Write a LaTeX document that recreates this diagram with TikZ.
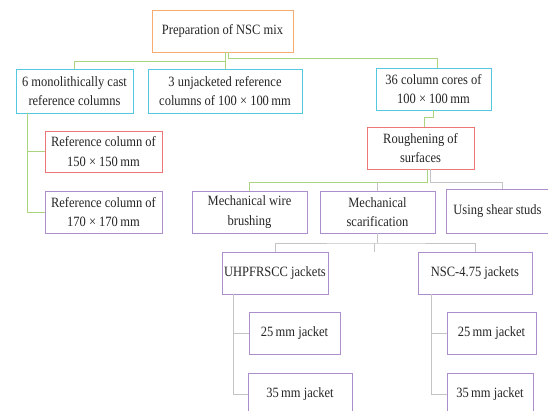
\documentclass[tikz,border=0pt]{standalone}
\usepackage{fontspec}
\setmainfont{Liberation Serif}[FakeStretch=0.88]
\definecolor{cOrange}{RGB}{246,172,112}
\definecolor{cCyan}{RGB}{84,200,222}
\definecolor{cRed}{RGB}{234,118,118}
\definecolor{cPurple}{RGB}{172,142,204}
\definecolor{cGreen}{RGB}{170,212,128}
\definecolor{cGray}{RGB}{196,196,196}
\tikzset{
  box/.style={draw, line width=0.9pt, fill=white, inner sep=0pt, align=center,
    font=\fontsize{14.2}{19.5}\selectfont, text=black!85},
  obox/.style={box, draw=cOrange},
  cbox/.style={box, draw=cCyan},
  rbox/.style={box, draw=cRed},
  pbox/.style={box, draw=cPurple},
  gline/.style={draw=cGreen, line width=0.9pt},
  yline/.style={draw=cGray, line width=0.9pt},
}
\begin{document}
\begin{tikzpicture}[x=1pt,y=-1pt]
\useasboundingbox (0,0) rectangle (548,411);
\clip (0,0) rectangle (548,411);
\fill[white] (0,0) rectangle (548,411);
% junction coordinates
\coordinate (j1) at (225,61);
\coordinate (j2) at (228,58);
\coordinate (a0) at (27,113);
\coordinate (fj) at (427,182);
\coordinate (hj) at (377,243);
\coordinate (hs) at (374,243);
\coordinate (jv) at (233,294);
\coordinate (kv) at (431,294);
% nodes
\node[obox, minimum width=141, minimum height=42] (top) at (222.5,31) {Preparation of NSC mix};
\node[cbox, minimum width=117, minimum height=44] (A) at (74.5,91) {6 monolithically cast\\reference columns};
\node[cbox, minimum width=154, minimum height=44] (B) at (225,91) {3 unjacketed reference\\columns of 100 × 100\,mm};
\node[cbox, minimum width=115, minimum height=42] (C) at (433.5,89) {36 column cores of\\100 × 100\,mm};
\node[rbox, minimum width=117, minimum height=41] (D) at (103.5,151.5) {Reference column of\\150 × 150\,mm};
\node[pbox, minimum width=117, minimum height=42] (E) at (103.5,212) {Reference column of\\170 × 170\,mm};
\node[rbox, minimum width=107, minimum height=42] (F) at (420.5,148) {Roughening of\\surfaces};
\node[pbox, minimum width=115, minimum height=42] (G) at (249.5,212) {Mechanical wire\\brushing};
\node[pbox, minimum width=115, minimum height=42] (H) at (377.5,212) {Mechanical\\scarification};
\node[pbox, minimum width=112, minimum height=44] (I) at (502,211) {\hspace*{-9pt}Using shear studs};
\node[pbox, minimum width=106, minimum height=42] (J) at (275,273) {UHPFRSCC jackets};
\node[pbox, minimum width=114, minimum height=42] (K) at (475,273) {NSC-4.75 jackets};
\node[pbox, minimum width=91, minimum height=42] (L) at (294.5,333) {25\,mm jacket};
\node[pbox, minimum width=104, minimum height=42] (M) at (300,394) {35\,mm jacket};
\node[pbox, minimum width=89, minimum height=42] (N) at (491.5,333) {25\,mm jacket};
\node[pbox, minimum width=86, minimum height=42] (O) at (490,394) {35\,mm jacket};
% connectors
\draw[gline] (top.south -| B.north) -- (B.north);
\draw[gline] (top.south -| j1) -- (j1) -| (A.north);
\draw[gline] (top.south -| j2) -- (j2) -| ([xshift=3.5pt]C.north);
\draw[gline] (a0) |- (D.west);
\draw[gline] (a0) |- (E.west);
\draw[gline] (C.south) -- ++(0,7) -| ([xshift=3.5pt]F.north);
\draw[gline] (F.south -| fj) -- (fj) -| (G.north);
\draw[yline] ([xshift=3pt]F.south -| fj) -- ([xshift=3pt]fj) -| (I.north);
\draw[yline] (fj -| H.north) -- (H.north);
\draw[yline] (H.south -| hj) -- (hj);
\draw[yline] (J.north) |- (hj) -| (K.north);
\draw[yline] (hs) -- ++(0,9);
\draw[yline] (jv) |- (L.west);
\draw[yline] (jv) |- (M.west);
\draw[yline] (kv) |- (N.west);
\draw[yline] (kv) |- (O.west);
\end{tikzpicture}
\end{document}
